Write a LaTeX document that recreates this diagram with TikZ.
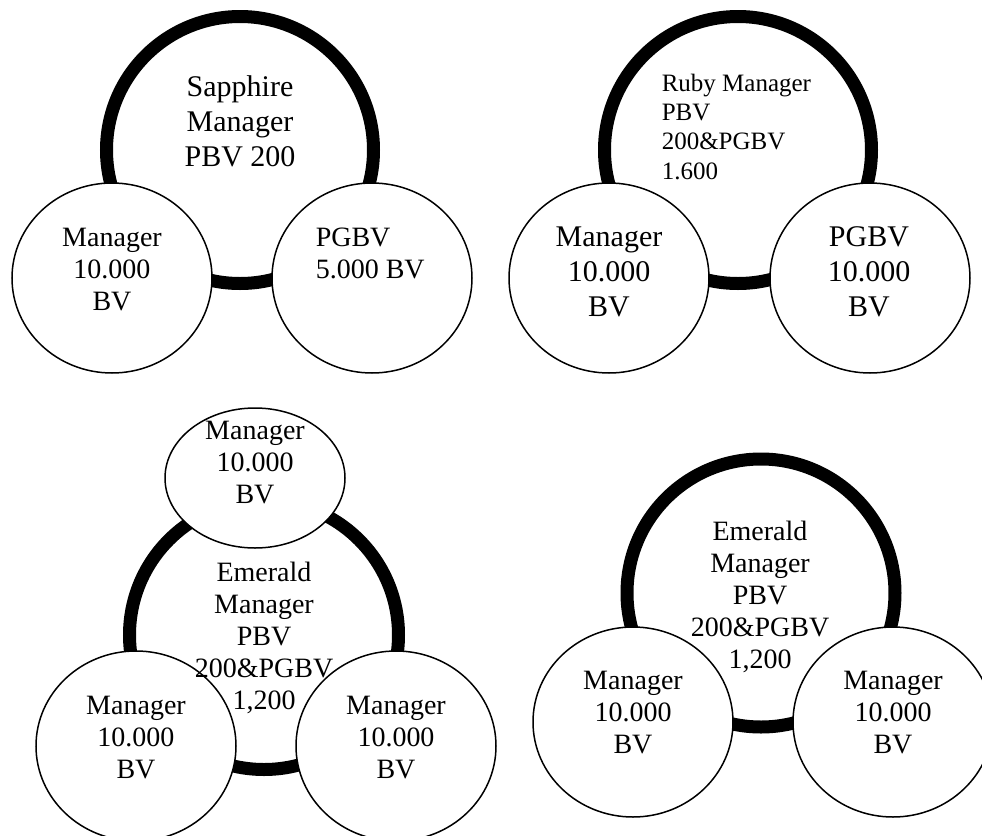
\documentclass[tikz,border=0pt]{standalone}
\usepackage{fontspec}
\setmainfont{Liberation Serif}
\usetikzlibrary{shapes.geometric}

\begin{document}
\begin{tikzpicture}[x=0.5pt,y=-0.5pt,line width=0.75pt,
  ring/.style={circle,draw,line width=6.5pt,inner sep=0pt,minimum size=#1},
  bub/.style={ellipse,draw,fill=white,inner sep=0pt,minimum width=100pt,minimum height=95pt},
  lbl/.style={align=center,inner sep=0pt,anchor=north,font={\fontsize{14}{16}\selectfont}},
  biglbl/.style={lbl,font={\fontsize{15}{17.5}\selectfont}},
  smalllbl/.style={lbl,align=left,anchor=north west,font={\fontsize{12.5}{14.7}\selectfont}}]
\useasboundingbox (0,0) rectangle (982,836);
% sapphire
\begin{scope}
\node[ring=133.5pt] (sapph) at (240,150) {};
\node[bub] (sapphl) at (112,278) {};
\node[bub] (sapphr) at (372,278) {};
\node[biglbl] (sapphtxt) at (240,75) {Sapphire\\Manager\\PBV 200};
\node[lbl] (sapphltxt) at (112,227) {Manager\\10.000\\BV};
\node[lbl,align=left,anchor=north west] (sapphrtxt) at (315,227) {PGBV\\5.000 BV};
\end{scope}
% ruby
\begin{scope}
\node[ring=133.5pt] (ruby) at (738,150) {};
\node[bub] (rubyl) at (609,278) {};
\node[bub] (rubyr) at (870,278) {};
\node[smalllbl] (rubytxt) at (661,73) {Ruby Manager\\PBV\\200\&PGBV\\1.600};
\node[biglbl] (rubyltxt) at (609,226) {Manager\\10.000\\BV};
\node[biglbl] (rubyrtxt) at (869,226) {PGBV\\10.000\\BV};
\end{scope}
% emerald, three legs
\begin{scope}
\node[ring=134.5pt] (emA) at (264,635) {};
\node[bub,minimum width=90pt,minimum height=70pt] (emAt) at (255,478) {};
\node[bub] (emAl) at (136,746) {};
\node[bub] (emAr) at (396,746) {};
\node[lbl] (emAtxt) at (264,561) {Emerald\\Manager\\PBV\\200\&PGBV\\1,200};
\node[lbl] (emAttxt) at (255,420) {Manager\\10.000\\BV};
\node[lbl] (emAltxt) at (136,695) {Manager\\10.000\\BV};
\node[lbl] (emArtxt) at (396,695) {Manager\\10.000\\BV};
\end{scope}
% emerald, two legs
\begin{scope}
\node[ring=134pt] (emB) at (761,593) {};
\node[bub] (emBl) at (633,722) {};
\node[bub] (emBr) at (893,722) {};
\node[lbl] (emBtxt) at (760,520) {Emerald\\Manager\\PBV\\200\&PGBV\\1,200};
\node[lbl] (emBltxt) at (633,670) {Manager\\10.000\\BV};
\node[lbl] (emBrtxt) at (893,670) {Manager\\10.000\\BV};
\end{scope}
\end{tikzpicture}
\end{document}
